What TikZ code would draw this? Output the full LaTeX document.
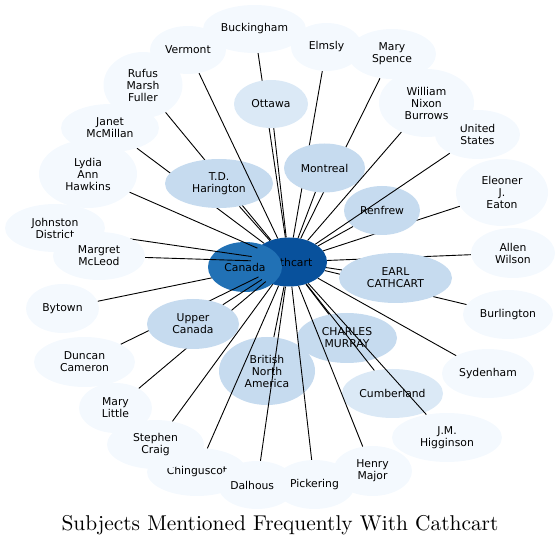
\documentclass[tikz,border=0pt]{standalone}
\usepackage{fontspec}
\usepackage{graphicx}
\newfontfamily\dv{DejaVu Sans}
\usetikzlibrary{shapes.geometric}
\definecolor{cOut}{HTML}{F4F9FE}
\definecolor{cMid}{HTML}{C6DBEF}
\definecolor{cLight}{HTML}{DBE9F6}
\definecolor{cCan}{HTML}{2171B5}
\definecolor{cCath}{HTML}{08519C}
\pgfdeclarelayer{eA}
\pgfdeclarelayer{nA}
\pgfdeclarelayer{eB}
\pgfdeclarelayer{eC}
\pgfsetlayers{eA,nA,eB,main,eC}
\tikzset{
  bub/.style={ellipse, inner sep=0pt, align=center, text=black,
    font=\dv\fontsize{10.8}{12}\selectfont},
  sz/.style 2 args={minimum width=#1pt, minimum height=#2pt},
  outerbox/.style={bub, fill=cOut},
  midbox/.style={bub, fill=cMid},
  lightbox/.style={bub, fill=cLight},
  canbox/.style={bub, fill=cCan},
  cathbox/.style={bub, fill=cCath},
  conn/.style={draw=black, line width=0.9pt},
}
\begin{document}
\begin{tikzpicture}[x=1pt,y=-1pt]
\useasboundingbox (0,0) rectangle (560,545);
\begin{pgfonlayer}{nA}
\node[cathbox, sz={76}{49}] (cathcart) at (289,262) {Cathcart};
\node[canbox, sz={74}{50}] (canada) at (245,267) {Canada};
\end{pgfonlayer}
% outer nodes
\node[outerbox, sz={76}{48}] (verm) at (188,50) {Vermont};
\node[outerbox, sz={103}{48}] (buck) at (254.5,29) {Buckingham};
\node[outerbox, sz={71}{48}] (elmsly) at (326.5,47) {Elmsly};
\node[outerbox, sz={88}{50}] (mspence) at (392,54) {Mary\\Spence};
\node[outerbox, sz={85}{49}] (us) at (477.5,134.5) {United\\States};
\node[outerbox, sz={95}{68}] (wnb) at (426.5,103) {William\\Nixon\\Burrows};
\node[outerbox, sz={92}{67}] (eleoner) at (502,192.5) {Eleoner\\J.\\Eaton};
\node[outerbox, sz={84}{50}] (allen) at (513,253) {Allen\\Wilson};
\node[outerbox, sz={90}{49}] (burl) at (508,314.5) {Burlington};
\node[outerbox, sz={92}{49}] (syd) at (488,373.5) {Sydenham};
\node[outerbox, sz={110}{49}] (higg) at (447,437.5) {J.M.\\Higginson};
\node[outerbox, sz={79}{50}] (henry) at (372.5,471) {Henry\\Major};
\node[outerbox, sz={100}{48}] (ching) at (197,472) {Chinguscot};
\node[outerbox, sz={78}{48}] (dalh) at (257,485) {Dalhous\phantom{ie}};
\node[outerbox, sz={81}{49}] (pick) at (314.5,484.5) {Pickering};
\node[outerbox, sz={97}{49}] (stephen) at (155.5,444.5) {Stephen\\Craig};
\node[outerbox, sz={73}{50}] (mlittle) at (115.5,408) {Mary\\Little};
\node[outerbox, sz={101}{50}] (duncan) at (84.5,362) {Duncan\\Cameron};
\node[outerbox, sz={73}{49}] (bytown) at (62.5,308.5) {Bytown};
\node[outerbox, sz={98}{68}] (lydia) at (88,174) {Lydia\\Ann\\Hawkins};
\node[outerbox, sz={100}{48}] (johnston) at (55,228) {Johnston\\District};
\node[outerbox, sz={92}{48}] (margret) at (99,256) {Margret\\McLeod};
\node[outerbox, sz={98}{48}] (janet) at (110,128) {Janet\\McMillan};
\node[outerbox, sz={79}{66}] (rufus) at (143,85) {Rufus\\Marsh\\Fuller};
% middle nodes
\node[lightbox, sz={74}{48}] (ottawa) at (271,104) {Ottawa};
\node[midbox, sz={108}{49}] (td) at (219,183.5) {T.D.\\Harington};
\node[midbox, sz={81}{49}] (montreal) at (324.5,168) {Montreal};
\node[midbox, sz={76}{49}] (renfrew) at (382,210.5) {Renfrew};
\node[midbox, sz={113}{50}] (earl) at (395.5,278) {EARL\\CATHCART};
\node[midbox, sz={100}{50}] (charles) at (347,338) {CHARLES\\MURRAY};
\node[lightbox, sz={101}{49}] (cumb) at (392.5,393.5) {Cumberland};
\node[midbox, sz={96}{68}] (bna) at (267,371) {British\\North\\America};
\node[midbox, sz={92}{50}] (upper) at (193,324) {Upper\\Canada};
% title
\node[anchor=base, inner sep=0pt, font=\fontsize{10}{12}\selectfont] (title) at (280,530) {\scalebox{2.14}{Subjects Mentioned Frequently With Cathcart}};
% edges under Canada
\begin{pgfonlayer}{eA}
\draw[conn] (bytown) -- (cathcart);
\end{pgfonlayer}
% edges under the other nodes
\begin{pgfonlayer}{eB}
\foreach \n in {buck,rufus,janet,elmsly,mspence,eleoner,allen,burl,duncan,mlittle,johnston}
  \draw[conn] (\n) -- (cathcart);
\end{pgfonlayer}
% edges on top
\begin{pgfonlayer}{eC}
\foreach \n in {verm,lydia,margret,stephen,ching,dalh,pick,henry,higg,syd,us,wnb,ottawa,td,montreal,renfrew,earl,charles,cumb,bna,upper}
  \draw[conn] (\n) -- (cathcart);
\end{pgfonlayer}
\end{tikzpicture}
\end{document}
